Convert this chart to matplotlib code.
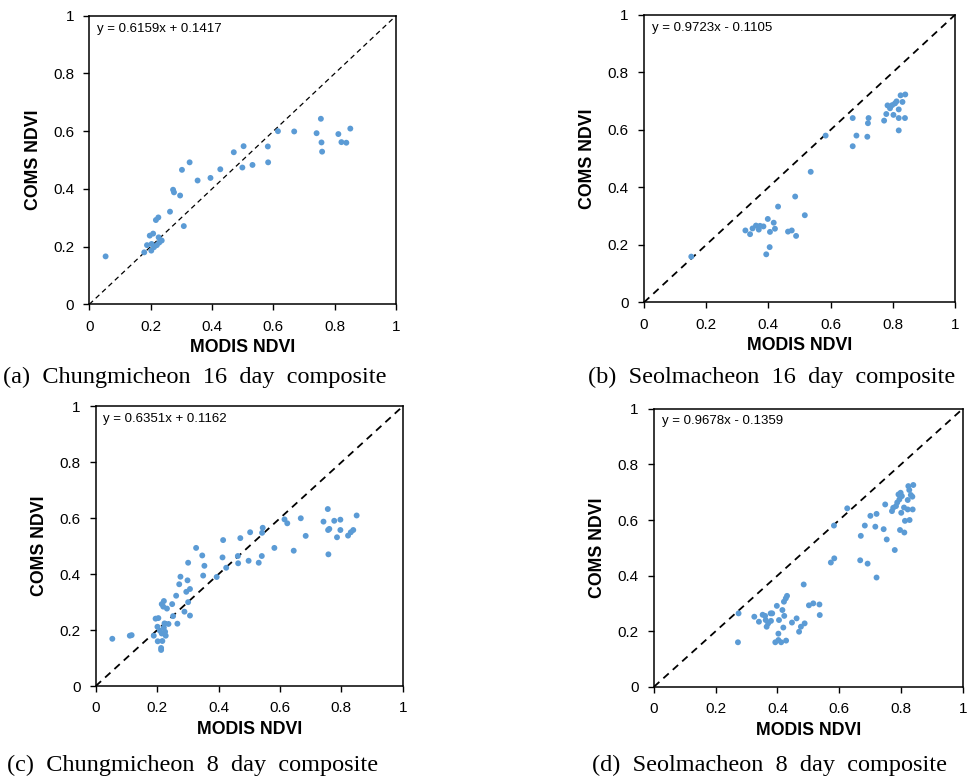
import matplotlib
matplotlib.use('Agg')
import matplotlib.pyplot as plt

# (a) Chungmicheon 16 day composite
a_x = [0.053, 0.179, 0.188, 0.197, 0.208, 0.202, 0.211, 0.203, 0.220, 0.226,
       0.236, 0.228, 0.217, 0.225, 0.263, 0.273, 0.276, 0.296, 0.308, 0.302,
       0.327, 0.353, 0.395, 0.427, 0.471, 0.499, 0.503, 0.532, 0.582, 0.583,
       0.615, 0.668, 0.741, 0.755, 0.757, 0.759, 0.812, 0.822, 0.838, 0.851]
a_y = [0.166, 0.180, 0.205, 0.238, 0.245, 0.186, 0.198, 0.209, 0.205, 0.232,
       0.221, 0.214, 0.292, 0.301, 0.321, 0.397, 0.388, 0.377, 0.271, 0.466,
       0.492, 0.429, 0.438, 0.468, 0.527, 0.474, 0.548, 0.483, 0.547, 0.492,
       0.600, 0.599, 0.593, 0.643, 0.561, 0.529, 0.590, 0.562, 0.560, 0.609]

# (b) Seolmacheon 16 day composite
b_x = [0.152, 0.326, 0.341, 0.349, 0.360, 0.369, 0.373, 0.384, 0.398, 0.393,
       0.404, 0.405, 0.417, 0.421, 0.431, 0.463, 0.475, 0.489, 0.486, 0.517,
       0.536, 0.584, 0.671, 0.671, 0.683, 0.718, 0.720, 0.722, 0.772, 0.779,
       0.783, 0.791, 0.798, 0.802, 0.807, 0.812, 0.819, 0.819, 0.819, 0.825,
       0.831, 0.840, 0.839]
b_y = [0.159, 0.250, 0.237, 0.257, 0.267, 0.253, 0.266, 0.264, 0.290, 0.167,
       0.192, 0.245, 0.277, 0.256, 0.333, 0.246, 0.250, 0.231, 0.368, 0.303,
       0.454, 0.580, 0.641, 0.543, 0.580, 0.576, 0.623, 0.641, 0.632, 0.655,
       0.685, 0.675, 0.686, 0.652, 0.692, 0.699, 0.671, 0.598, 0.641, 0.720,
       0.697, 0.723, 0.641]

# (c) Chungmicheon 8 day composite
c_x = [0.054, 0.111, 0.117, 0.189, 0.195, 0.204, 0.201, 0.202, 0.209, 0.213,
       0.213, 0.217, 0.215, 0.224, 0.226, 0.228, 0.222, 0.237, 0.215, 0.222,
       0.220, 0.232, 0.249, 0.252, 0.262, 0.266, 0.272, 0.276, 0.289, 0.295,
       0.299, 0.301, 0.307, 0.307, 0.301, 0.327, 0.347, 0.354, 0.350, 0.394,
       0.413, 0.415, 0.425, 0.463, 0.464, 0.471, 0.498, 0.503, 0.531, 0.541,
       0.542, 0.544, 0.582, 0.615, 0.624, 0.645, 0.668, 0.684, 0.742, 0.756,
       0.757, 0.761, 0.758, 0.777, 0.786, 0.797, 0.797, 0.822, 0.831, 0.839,
       0.850]
c_y = [0.169, 0.180, 0.182, 0.180, 0.241, 0.243, 0.212, 0.160, 0.198, 0.136,
       0.129, 0.161, 0.188, 0.224, 0.194, 0.180, 0.209, 0.222, 0.293, 0.304,
       0.284, 0.277, 0.293, 0.250, 0.323, 0.223, 0.364, 0.391, 0.266, 0.337,
       0.378, 0.300, 0.347, 0.252, 0.441, 0.494, 0.467, 0.430, 0.395, 0.390,
       0.460, 0.522, 0.423, 0.465, 0.439, 0.529, 0.448, 0.550, 0.441, 0.465,
       0.548, 0.566, 0.494, 0.596, 0.582, 0.484, 0.600, 0.537, 0.588, 0.633,
       0.558, 0.562, 0.471, 0.591, 0.532, 0.595, 0.558, 0.538, 0.550, 0.558,
       0.610]

# (d) Seolmacheon 8 day composite
d_x = [0.274, 0.272, 0.325, 0.340, 0.352, 0.360, 0.365, 0.370, 0.378, 0.383,
       0.379, 0.362, 0.398, 0.403, 0.405, 0.393, 0.403, 0.412, 0.428, 0.416,
       0.419, 0.422, 0.421, 0.427, 0.431, 0.447, 0.462, 0.470, 0.476, 0.488,
       0.485, 0.502, 0.516, 0.536, 0.537, 0.573, 0.584, 0.583, 0.626, 0.668,
       0.670, 0.683, 0.692, 0.701, 0.717, 0.721, 0.721, 0.744, 0.754, 0.749,
       0.771, 0.775, 0.780, 0.784, 0.788, 0.795, 0.797, 0.799, 0.801, 0.803,
       0.811, 0.810, 0.813, 0.822, 0.822, 0.828, 0.824, 0.827, 0.832, 0.838,
       0.840, 0.837, 0.792]
d_y = [0.264, 0.160, 0.252, 0.234, 0.259, 0.255, 0.216, 0.228, 0.264, 0.264,
       0.237, 0.240, 0.291, 0.191, 0.240, 0.160, 0.168, 0.160, 0.166, 0.276,
       0.213, 0.255, 0.306, 0.318, 0.327, 0.231, 0.246, 0.198, 0.216, 0.228,
       0.368, 0.293, 0.300, 0.296, 0.258, 0.447, 0.462, 0.580, 0.642, 0.455,
       0.543, 0.580, 0.443, 0.615, 0.576, 0.622, 0.393, 0.567, 0.530, 0.656,
       0.632, 0.644, 0.492, 0.650, 0.663, 0.674, 0.564, 0.698, 0.626, 0.686,
       0.555, 0.645, 0.597, 0.672, 0.638, 0.600, 0.722, 0.708, 0.690, 0.638,
       0.726, 0.684, 0.692]

equations = ["y = 0.6159x + 0.1417", "y = 0.9723x - 0.1105",
             "y = 0.6351x + 0.1162", "y = 0.9678x - 0.1359"]
captions = ["(a)  Chungmicheon  16  day  composite", "(b)  Seolmacheon  16  day  composite",
            "(c)  Chungmicheon  8  day  composite", "(d)  Seolmacheon  8  day  composite"]
ticks = [0, 0.2, 0.4, 0.6, 0.8, 1]
tick_labels = ["0", "0.2", "0.4", "0.6", "0.8", "1"]

panels = [(a_x, a_y), (b_x, b_y), (c_x, c_y), (d_x, d_y)]

# axes rectangles in figure fraction (left, bottom, width, height)
rects = [(0.0923, 0.6104, 0.3168, 0.3694),
         (0.6653, 0.6129, 0.3213, 0.3681),
         (0.0989, 0.1216, 0.3171, 0.3580),
         (0.6756, 0.1207, 0.3189, 0.3558)]
caption_pos = [(0.201, 0.517), (0.797, 0.517), (0.199, 0.020), (0.795, 0.020)]
dash_width = [0.9, 1.3, 1.3, 1.3]

plt.rcParams['font.family'] = ['Liberation Sans', 'DejaVu Sans']

fig = plt.figure(figsize=(9.68, 7.81), dpi=100, facecolor="white")

for i, (xs, ys) in enumerate(panels):
    ax = fig.add_axes(rects[i])
    ax.plot([0, 1], [0, 1], color="black", linestyle=(0, (4, 3)),
            linewidth=dash_width[i], zorder=1)
    ax.scatter(xs, ys, s=18, color="#5b9bd5", edgecolors="none", zorder=2)
    ax.set_xlim(0, 1)
    ax.set_ylim(0, 1)
    ax.set_xticks(ticks)
    ax.set_xticklabels(tick_labels)
    ax.set_yticks(ticks)
    ax.set_yticklabels(tick_labels)
    ax.tick_params(direction="out", length=4, width=1, labelsize=11,
                   colors="black", pad=7)
    for sp in ax.spines.values():
        sp.set_linewidth(1.1)
        sp.set_color("black")
    ax.set_xlabel("MODIS NDVI", fontsize=12.8, fontweight="bold", labelpad=4)
    ax.set_ylabel("COMS NDVI", fontsize=12.8, fontweight="bold", labelpad=8)
    ax.text(0.025, 0.955, equations[i], transform=ax.transAxes, fontsize=9.5,
            ha="left", va="center")
    fig.text(caption_pos[i][0], caption_pos[i][1], captions[i],
             family=["Liberation Serif", "DejaVu Serif"], fontsize=17.5,
             ha="center", va="center")

plt.savefig("out.png", dpi=100)
plt.close()
